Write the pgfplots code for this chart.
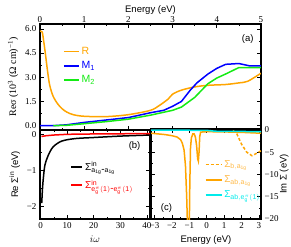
\documentclass[border=0pt]{standalone}
\usepackage{pgfplots}
\pgfplotsset{compat=1.18}
\usepackage{fontspec}
\setmainfont{Liberation Serif}
\setsansfont{Liberation Sans}
\definecolor{cOr}{RGB}{255,165,0}
\definecolor{cOrT}{RGB}{255,185,70}
\definecolor{cBl}{RGB}{0,0,255}
\definecolor{cGr}{RGB}{20,235,20}
\definecolor{cCy}{RGB}{0,235,235}
\definecolor{cRd}{RGB}{255,0,0}
\newcommand{\hy}{\mbox{\sffamily -}}
\begin{document}
\begin{tikzpicture}
\useasboundingbox (0,0) rectangle (291pt,246pt);
\pgfplotsset{
 every axis/.append style={scale only axis, axis line style={line width=1.1pt},
   tick style={line width=0.6pt, black}, tick align=inside, major tick length=4pt, minor tick length=2pt,
   tick label style={font=\fontsize{9}{9}\selectfont},
   label style={font=\fontsize{9.5}{10}\selectfont\sffamily},
   legend cell align=left},
}
% ---------- (a)
\begin{axis}[at={(40pt,116pt)}, anchor=south west, width=221pt, height=106pt,
 xmin=0, xmax=5, ymin=-0.27, ymax=6.3,
 xtick={0,1,2,3,4,5}, xticklabels={0,1,2,3,4,5}, minor x tick num=1, xticklabel pos=upper,
 xticklabel style={yshift=-2pt},
 xlabel={Energy (eV)}, xlabel style={yshift=-5pt},
 ytick={0,1.5,3,4.5,6}, yticklabels={0.0,1.5,3.0,4.5,6.0}, minor y tick num=1,
 ylabel={Reσ (10\textsuperscript{3} (Ω cm)\textsuperscript{−1})},
 ylabel style={font=\fontsize{10}{10}\selectfont\rmfamily},
 legend style={at={(0.09,0.82)}, anchor=north west, draw=none, fill=none,
   font=\fontsize{10.5}{11}\selectfont\sffamily, row sep=1.5pt},
 legend image code/.code={\draw[#1] (0pt,0pt) -- (15pt,0pt);},
]
\addplot[cOr, line width=1.5pt, smooth] coordinates {(0,5.85)(0.05,5.8)(0.08,5.3)(0.12,4.5)(0.17,3.4)(0.22,2.5)(0.3,1.8)(0.4,1.35)(0.5,1.05)(0.6,0.85)(0.75,0.68)(1.0,0.58)(1.5,0.56)(2.0,0.68)(2.5,0.95)(2.7,1.25)(2.9,1.65)(3.0,1.95)(3.2,2.2)(3.5,2.4)(3.8,2.5)(4.2,2.55)(4.5,2.65)(4.7,2.75)(5.0,3.25)};
\addlegendentry{\textcolor{cOr}{R}}
\addplot[cBl, line width=1.5pt] coordinates {(0,0)(0.3,0)(0.6,0.05)(1.0,0.2)(1.5,0.35)(2.0,0.5)(2.5,0.8)(2.8,0.95)(3.0,1.2)(3.2,1.5)(3.4,2.2)(3.55,2.65)(3.8,3.2)(4.0,3.55)(4.2,3.8)(4.5,3.85)(4.75,3.7)(5.0,3.7)};
\addlegendentry{\textcolor{cBl}{M\textsubscript{1}}}
\addplot[cGr, line width=1.5pt] coordinates {(0.3,0)(0.6,0.02)(1.0,0.12)(1.5,0.25)(2.0,0.4)(2.5,0.65)(3.0,0.95)(3.2,1.15)(3.5,1.75)(3.8,2.6)(4.0,2.95)(4.2,3.2)(4.5,3.6)(5.0,3.6)};
\addlegendentry{\textcolor{cGr}{M\textsubscript{2}}}
\node[font=\fontsize{9.5}{10}\selectfont\sffamily] at (rel axis cs:0.94,0.86) {(a)};
\end{axis}
% ---------- (b)
\begin{axis}[at={(40pt,27pt)}, anchor=south west, width=110pt, height=89pt,
 xmin=-0.25, xmax=41.2, ymin=-2.36, ymax=0.12,
 xtick={0,10,20,30,40}, xticklabels={0,10,20,30,40}, minor x tick num=1,
 ytick={-2,-1,0}, yticklabels={−2,−1,0}, minor y tick num=1,
 xlabel={$i\omega$}, xlabel style={font=\fontsize{10}{10}\selectfont\rmfamily},
 ylabel={Re Σ\textsuperscript{in} (eV)},
 legend style={at={(0.25,0.69)}, anchor=north west, draw=none, fill=none,
   font=\fontsize{10}{11}\selectfont\sffamily, row sep=4pt},
 legend image code/.code={\draw[#1] (0pt,0pt) -- (11pt,0pt);},
]
\addplot[black, line width=1.5pt, smooth] coordinates {(0.4,-1.92)(0.7,-1.5)(1.0,-1.23)(1.6,-0.86)(2.9,-0.58)(4.7,-0.35)(7.9,-0.19)(12.9,-0.12)(19.8,-0.09)(30,-0.05)(41.2,-0.02)};
\addlegendentry{Σ$^{\mathsf{in}}_{\mathsf{a_{1g}}\hy\mathsf{a_{1g}}}$}
\addplot[cRd, line width=1.5pt] coordinates {(0.3,-0.06)(2,-0.04)(5,-0.02)(10,0)(20,0.01)(41.2,0.02)};
\addlegendentry{\textcolor{cRd}{Σ$^{\mathsf{in}}_{\mathsf{e_g^{\pi}(1)}\hy\mathsf{e_g^{\pi}(1)}}$}}
\node[font=\fontsize{9.5}{10}\selectfont\sffamily] at (rel axis cs:0.86,0.82) {(b)};
\end{axis}
% ---------- (c)
\begin{axis}[at={(151pt,27pt)}, anchor=south west, width=110pt, height=90pt,
 xmin=-3.2, xmax=3.12, ymin=-20, ymax=0.2,
 xtick={-3,...,3}, xticklabels={−3,−2,−1,0,1,2,3}, minor x tick num=1,
 ytick={-20,-15,-10,-5,0}, yticklabels={−20,−15,−10,−5,0}, minor y tick num=1,
 yticklabel pos=right,
 xlabel={Energy (eV)}, ylabel={Im Σ (eV)},
 ylabel style={at={(axis description cs:1.21,0.5)}, anchor=center},
 legend style={at={(0.46,0.70)}, anchor=north west, draw=none, fill=none,
   font=\fontsize{10}{11}\selectfont\sffamily, row sep=3pt},
 legend image code/.code={\draw[#1] (0pt,0pt) -- (16pt,0pt);},
]
\addplot[cOr, line width=1.5pt, dash pattern=on 3pt off 2pt] coordinates {(1.5,-0.2)(1.7,-0.6)(2.0,-3.2)(2.3,-5.0)(2.6,-5.8)(2.75,-5.5)(3.12,-4.7)};
\addlegendentry{\textcolor{cOrT}{Σ$_{\mathsf{b,a_{1g}}}$}}
\addplot[cOr, line width=1.5pt] coordinates {(-3.2,-0.75)(-2.8,-0.9)(-2.4,-1.05)(-2.0,-1.3)(-1.7,-1.6)(-1.5,-2.2)(-1.4,-3.0)(-1.3,-4.5)(-1.22,-8)(-1.15,-15)(-1.1,-22)(-1.0,-22)(-0.97,-12)(-0.93,-4)(-0.88,-1.8)(-0.8,-0.9)(-0.72,-0.9)(-0.65,-1.6)(-0.58,-3.5)(-0.52,-6.5)(-0.48,-7.0)(-0.44,-5)(-0.4,-1.5)(-0.35,-0.5)(0,-0.4)(1,-0.45)(2,-0.55)(3.12,-0.75)};
\addlegendentry{\textcolor{cOrT}{Σ$_{\mathsf{ab,a_{1g}}}$}}
\addplot[cCy, line width=1.5pt] coordinates {(-3.2,-0.05)(-1,-0.08)(0,-0.1)(0.5,-0.3)(1,-0.35)(2,-0.35)(3.12,-0.4)};
\addlegendentry{\textcolor{cCy}{Σ$_{\mathsf{ab,e_g^{\pi}(1)}}$}}
\node[font=\fontsize{9.5}{10}\selectfont\sffamily] at (rel axis cs:0.14,0.12) {(c)};
\end{axis}
\end{tikzpicture}
\end{document}
